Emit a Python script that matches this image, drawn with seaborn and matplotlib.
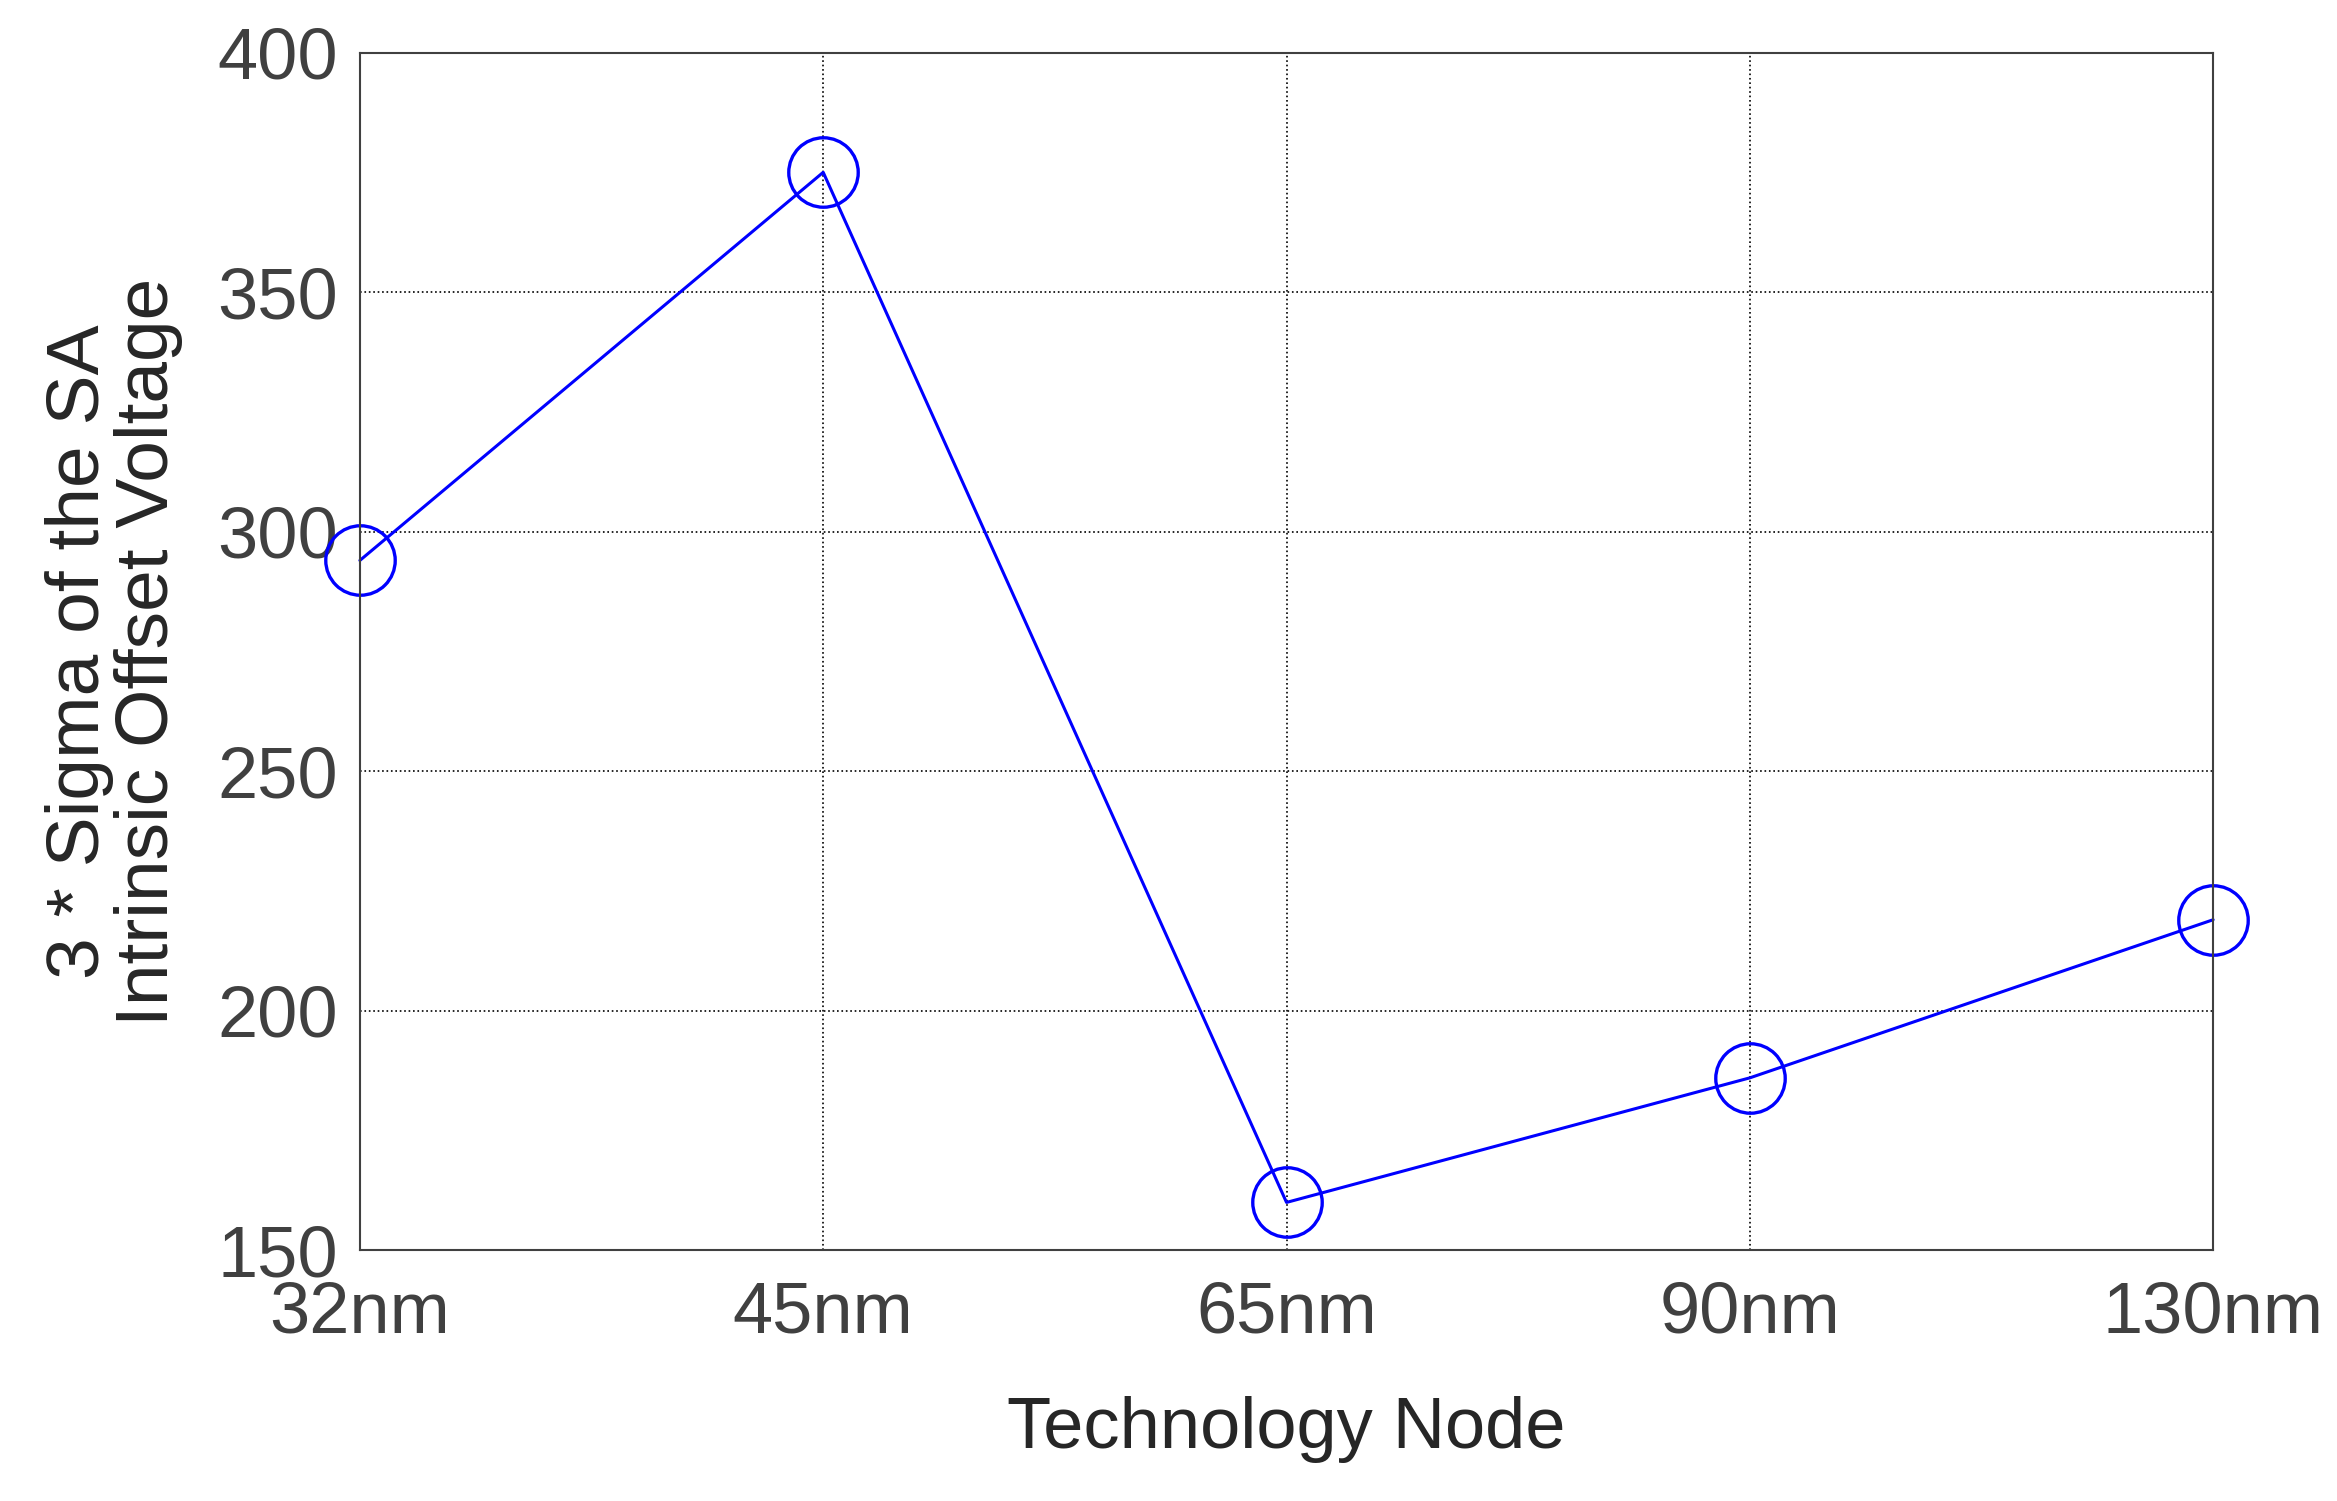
import matplotlib
matplotlib.use("Agg")
import matplotlib.pyplot as plt
import seaborn as sns
import pandas as pd

nodes = ["32nm", "45nm", "65nm", "90nm", "130nm"]
offset_mv = [294, 375, 160, 186, 219]

sns.set_style("white")
plt.rcParams["font.family"] = ["Liberation Sans", "DejaVu Sans"]

df = pd.DataFrame({"pos": range(len(nodes)), "val": offset_mv})

fig, ax = plt.subplots(figsize=(23.37, 15.01), dpi=100)
fig.subplots_adjust(left=0.154, right=0.947, top=0.965, bottom=0.167)
sns.lineplot(data=df, x="pos", y="val", ax=ax, color="#0000ff", linewidth=2.2,
             marker="o", markersize=50, markerfacecolor="none",
             markeredgecolor="#0000ff", markeredgewidth=2.4)
for line in ax.lines:
    line.set_clip_on(False)

ax.set_xlim(0, len(nodes) - 1)
ax.set_ylim(150, 400)
ax.set_xticks(range(len(nodes)))
ax.set_xticklabels(nodes)
ax.set_yticks(range(150, 401, 50))
ax.grid(True, color="black", linestyle=":", linewidth=1.2)
for s in ax.spines.values():
    s.set_color("#404040")
    s.set_linewidth(1.5)
ax.tick_params(labelsize=52, labelcolor="#404040")
ax.tick_params(axis="x", pad=18)
ax.tick_params(axis="y", pad=12)
ax.set_xlabel("Technology Node", fontsize=52, labelpad=35)
ax.set_ylabel("3 * Sigma of the SA\nIntrinsic Offset Voltage", fontsize=54,
              labelpad=25, linespacing=1.0)
fig.savefig("out.png", dpi=100)
